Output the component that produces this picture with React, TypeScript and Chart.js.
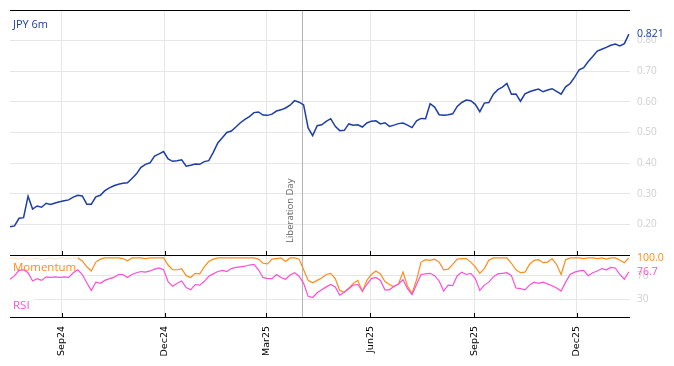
import { useEffect, useRef } from 'react';
import { Chart, registerables } from 'chart.js';

Chart.register(...registerables);

// ---- data ----
const startDate = '2024-07-17';
const stepDays = 4;
const seriesNames = ['JPY 6m', 'Momentum', 'RSI'];

const jpy6m = [
  0.192, 0.195, 0.22, 0.222, 0.292, 0.25, 0.26, 0.256, 0.269, 0.265,
  0.27, 0.274, 0.277, 0.28, 0.289, 0.295, 0.293, 0.266, 0.266, 0.29,
  0.295, 0.31, 0.319, 0.326, 0.331, 0.334, 0.336, 0.35, 0.365, 0.386,
  0.396, 0.401, 0.423, 0.43, 0.438, 0.414, 0.406, 0.408, 0.411, 0.39,
  0.393, 0.397, 0.396, 0.405, 0.408, 0.435, 0.466, 0.483, 0.5, 0.505,
  0.518, 0.532, 0.543, 0.552, 0.565, 0.567, 0.557, 0.556, 0.56, 0.57,
  0.574, 0.58, 0.589, 0.604, 0.599, 0.59, 0.515, 0.49, 0.522, 0.525,
  0.536, 0.545, 0.52, 0.506, 0.507, 0.528, 0.524, 0.525, 0.518, 0.531,
  0.537, 0.538, 0.528, 0.532, 0.52, 0.524, 0.529, 0.531, 0.524, 0.516,
  0.538, 0.546, 0.545, 0.594, 0.583, 0.558, 0.556, 0.558, 0.561, 0.585,
  0.598, 0.606, 0.604, 0.592, 0.568, 0.596, 0.598, 0.625, 0.64, 0.648,
  0.66, 0.625, 0.626, 0.602, 0.626, 0.633, 0.638, 0.642, 0.633, 0.639,
  0.643, 0.634, 0.625, 0.649, 0.66, 0.681, 0.705, 0.712, 0.732, 0.748,
  0.766, 0.772, 0.778, 0.785, 0.789, 0.783, 0.79, 0.821,
];

const momentum = [
  99, 100, 98, 100, 97, 99, 100, 97, 99, 100,
  98, 100, 100, 99, 100, 100, 95, 85, 78, 93,
  98, 100, 100, 100, 100, 99, 95, 100, 100, 100,
  99, 100, 100, 100, 100, 88, 80, 80, 82, 70,
  67, 74, 73, 85, 94, 98, 100, 100, 100, 100,
  100, 100, 100, 100, 100, 98, 91, 90, 98, 99,
  100, 94, 100, 100, 98, 80, 62, 58, 62, 66,
  72, 74, 65, 45, 42, 49, 57, 62, 43, 62,
  72, 78, 73, 60, 55, 51, 56, 76, 52, 40,
  63, 93, 97, 96, 98, 93, 80, 81, 89, 98,
  99, 99, 93, 85, 74, 82, 96, 100, 100, 100,
  100, 91, 80, 75, 76, 89, 96, 97, 92, 93,
  99, 89, 72, 97, 100, 100, 100, 99, 100, 100,
  99, 100, 98, 100, 100, 96, 92, 100,
];

const rsi = [
  64, 70, 79, 80, 75, 61, 65, 62, 68, 67,
  68, 67, 68, 67, 75, 80, 72, 58, 45, 59,
  57, 62, 65, 67, 72, 72, 67, 72, 75, 77,
  76, 78, 81, 83, 80, 60, 52, 57, 61, 50,
  46, 55, 54, 60, 69, 73, 77, 79, 77, 82,
  84, 85, 86, 88, 89, 80, 67, 65, 65, 72,
  67, 64, 71, 75, 69, 57, 35, 33, 41, 46,
  51, 55, 51, 37, 42, 48, 54, 55, 44, 55,
  65, 67, 62, 46, 46, 52, 56, 63, 48, 38,
  55, 72, 73, 74, 70, 61, 44, 54, 53, 70,
  76, 72, 74, 65, 45, 54, 59, 68, 73, 74,
  75, 70, 49, 48, 46, 54, 59, 57, 59, 56,
  53, 49, 44, 59, 72, 76, 78, 79, 70, 75,
  78, 82, 80, 84, 83, 72, 64, 76.7,
];

const xTickDates = ['2024-09-01', '2024-12-01', '2025-03-01', '2025-06-01', '2025-09-01', '2025-12-01'];
const monthNames = ['Jan', 'Feb', 'Mar', 'Apr', 'May', 'Jun', 'Jul', 'Aug', 'Sep', 'Oct', 'Nov', 'Dec'];
const eventDate = '2025-04-02';
const eventLabel = 'Liberation Day';
const topTicks = [0.2, 0.3, 0.4, 0.5, 0.6, 0.7, 0.8];
const bottomTicks = [30, 70];

// ---- styles ----
const BLUE = '#1c3ea6';
const ORANGE = '#ff8c1a';
const PINK = '#fb4fd8';
const GRID = '#e6e6e6';
const TICKGREY = '#cfcfcf';
const FONT = '"Open Sans", "Liberation Sans", sans-serif';
const DAY = 86400000;

const t0 = Date.parse(startDate);
const toPoints = (arr: number[]) => arr.map((v, i) => ({ x: t0 + i * stepDays * DAY, y: v }));
const xMax = t0 + 549 * DAY;

const fmtMonth = (v: number) => {
  const d = new Date(v);
  return monthNames[d.getUTCMonth()] + String(d.getUTCFullYear() % 100).padStart(2, '0');
};

const noPad = (s: any) => {
  s.paddingTop = 0;
  s.paddingBottom = 0;
  s.paddingLeft = 0;
  s.paddingRight = 0;
};

const overlay = {
  id: 'overlay',
  beforeDatasetsDraw(chart: any) {
    const { ctx, chartArea, scales } = chart;
    const xe = Math.round(scales.x.getPixelForValue(Date.parse(eventDate))) + 0.5;
    ctx.save();
    ctx.strokeStyle = '#b4b4b4';
    ctx.lineWidth = 1;
    ctx.beginPath();
    ctx.moveTo(xe, chartArea.top);
    ctx.lineTo(xe, chartArea.bottom);
    ctx.stroke();
    ctx.translate(xe - 12, scales.y.bottom - 12);
    ctx.rotate(-Math.PI / 2);
    ctx.font = '9.5px ' + FONT;
    ctx.fillStyle = '#666666';
    ctx.textAlign = 'left';
    ctx.textBaseline = 'middle';
    ctx.fillText(eventLabel, 0, 0);
    ctx.restore();
  },
  afterDatasetDraw(chart: any, args: any) {
    if (args.index !== 1) return;
    const { ctx, chartArea, scales } = chart;
    ctx.save();
    ctx.fillStyle = 'rgba(255,255,255,0.8)';
    ctx.fillRect(chartArea.left, scales.y.bottom + 1, 68, 22);
    ctx.font = '11.5px ' + FONT;
    ctx.fillStyle = ORANGE;
    ctx.textAlign = 'left';
    ctx.textBaseline = 'middle';
    ctx.fillText(seriesNames[1], chartArea.left + 3, scales.y.bottom + 13);
    ctx.restore();
  },
  afterDraw(chart: any) {
    const { ctx, chartArea, scales } = chart;
    const { left, right, top, bottom } = chartArea;
    const mid = scales.y.bottom;
    ctx.save();
    // RSI label box
    ctx.fillStyle = 'rgba(255,255,255,0.85)';
    ctx.fillRect(left, bottom - 22, 24, 20);
    ctx.font = '11.5px ' + FONT;
    ctx.textAlign = 'left';
    ctx.textBaseline = 'middle';
    ctx.fillStyle = PINK;
    ctx.fillText(seriesNames[2], left + 3, bottom - 11);
    // JPY label
    ctx.font = '11px ' + FONT;
    ctx.fillStyle = BLUE;
    ctx.fillText(seriesNames[0], left + 3, top + 15);
    // spines
    ctx.strokeStyle = '#000';
    ctx.lineWidth = 1.2;
    [top, mid, bottom].forEach((yy) => {
      ctx.beginPath();
      ctx.moveTo(left, Math.round(yy) + 0.5);
      ctx.lineTo(right, Math.round(yy) + 0.5);
      ctx.stroke();
    });
    // tick marks (inward)
    ctx.lineWidth = 1;
    xTickDates.forEach((d) => {
      const xp = Math.round(scales.x.getPixelForValue(Date.parse(d))) + 0.5;
      [mid, bottom].forEach((yy) => {
        ctx.beginPath();
        ctx.moveTo(xp, Math.round(yy) - 4);
        ctx.lineTo(xp, Math.round(yy));
        ctx.stroke();
      });
    });
    // last value labels
    ctx.font = '10.5px ' + FONT;
    const lx = right + 7;
    ctx.fillStyle = BLUE;
    ctx.fillText(jpy6m[jpy6m.length - 1].toFixed(3), lx, scales.y.getPixelForValue(jpy6m[jpy6m.length - 1]));
    ctx.fillStyle = ORANGE;
    ctx.fillText(momentum[momentum.length - 1].toFixed(1), lx, scales.y2.getPixelForValue(momentum[momentum.length - 1]));
    ctx.fillStyle = PINK;
    ctx.fillText(rsi[rsi.length - 1].toFixed(1), lx, scales.y2.getPixelForValue(rsi[rsi.length - 1]));
    ctx.restore();
  },
};

export default function App() {
  const ref = useRef<HTMLCanvasElement | null>(null);
  useEffect(() => {
    if (!ref.current) return;
    const chart = new Chart(ref.current, {
      type: 'line',
      data: {
        datasets: [
          { label: seriesNames[0], data: toPoints(jpy6m), yAxisID: 'y', borderColor: BLUE, borderWidth: 1.5, pointRadius: 0, order: 0 },
          { label: seriesNames[1], data: toPoints(momentum), yAxisID: 'y2', borderColor: ORANGE, borderWidth: 1.2, pointRadius: 0, order: 2 },
          { label: seriesNames[2], data: toPoints(rsi), yAxisID: 'y2', borderColor: PINK, borderWidth: 1.2, pointRadius: 0, order: 1 },
        ],
      },
      options: {
        responsive: false,
        animation: false,
        events: [],
        layout: { autoPadding: false, padding: { left: 2, top: 2, right: 0, bottom: 0 } },
        plugins: { legend: { display: false }, tooltip: { enabled: false } },
        scales: {
          x: {
            type: 'linear',
            min: t0,
            max: xMax,
            border: { display: false },
            grid: { color: GRID, drawTicks: false },
            afterBuildTicks: (s: any) => { s.ticks = xTickDates.map((d) => ({ value: Date.parse(d) })); },
            afterFit: (s: any) => { s.height = 41; noPad(s); },
            ticks: {
              autoSkip: false,
              minRotation: 90,
              maxRotation: 90,
              padding: 9,
              color: '#000',
              font: { family: '"DejaVu Sans", sans-serif', size: 9.5 },
              callback: (v: any) => fmtMonth(Number(v)),
            },
          },
          y: {
            type: 'linear',
            position: 'right',
            stack: 'panels',
            stackWeight: 245,
            min: 0.1,
            max: 0.9,
            border: { display: false },
            grid: { color: GRID, drawTicks: false },
            afterBuildTicks: (s: any) => { s.ticks = topTicks.map((v) => ({ value: v })); },
            afterFit: (s: any) => { s.width = 36; noPad(s); },
            ticks: {
              padding: 7,
              color: TICKGREY,
              font: { family: FONT, size: 10 },
              callback: (v: any) => Number(v).toFixed(2),
            },
          },
          y2: {
            type: 'linear',
            position: 'right',
            stack: 'panels',
            stackWeight: 62,
            min: 0,
            max: 105,
            border: { display: false },
            grid: { color: GRID, drawTicks: false },
            afterBuildTicks: (s: any) => { s.ticks = bottomTicks.map((v) => ({ value: v })); },
            afterFit: (s: any) => { s.width = 36; noPad(s); },
            ticks: {
              padding: 7,
              color: TICKGREY,
              font: { family: FONT, size: 10 },
              callback: (v: any) => String(v),
            },
          },
        },
      },
      plugins: [overlay],
    });
    return () => chart.destroy();
  }, []);
  return (
    <div style={{ width: 658, height: 350 }}>
      <canvas ref={ref} width={658} height={350} />
    </div>
  );
}
